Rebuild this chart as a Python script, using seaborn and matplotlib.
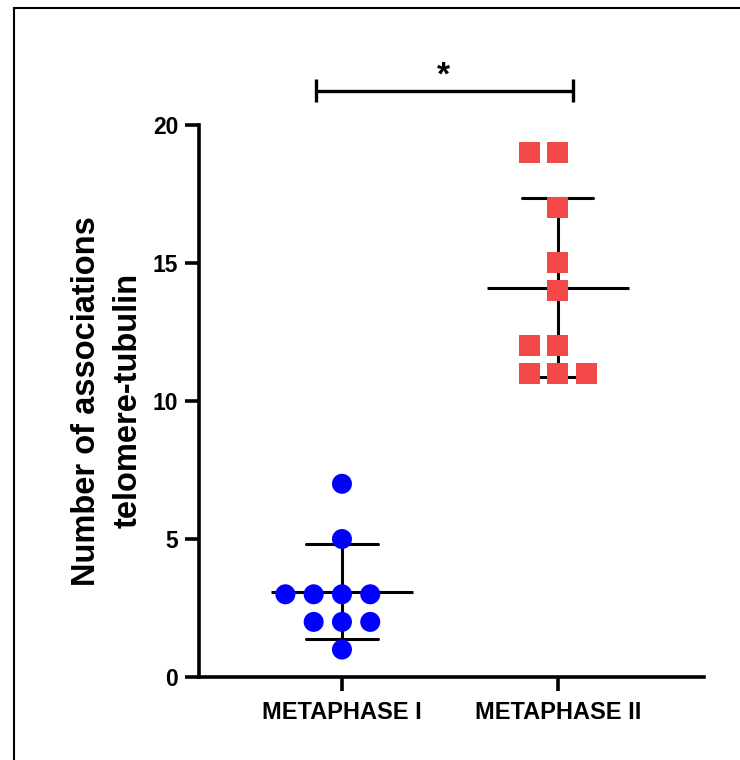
import numpy as np
import pandas as pd
import matplotlib.pyplot as plt
import seaborn as sns
from matplotlib.patches import Rectangle

groups = ['METAPHASE I', 'METAPHASE II']
metaphase_1 = [7, 5, 3, 3, 3, 3, 2, 2, 2, 1]
metaphase_2 = [19, 19, 17, 15, 14, 12, 12, 11, 11, 11]
y_ticks = [0, 5, 10, 15, 20]
y_label = 'Number of associations\ntelomere-tubulin'
sig_label = '*'

df = pd.DataFrame({
    'phase': [groups[0]] * len(metaphase_1) + [groups[1]] * len(metaphase_2),
    'count': metaphase_1 + metaphase_2,
})

sns.set_style('white')
plt.rcParams['font.family'] = ['Liberation Sans', 'DejaVu Sans']
plt.rcParams['font.weight'] = 'bold'

fig = plt.figure(figsize=(7.4, 7.6), dpi=100)
ax = fig.add_axes([0.269, 0.109, 0.682, 0.727])

# swarms - edge is invisible but its width keeps the points spaced apart
sns.swarmplot(data=df[df.phase == groups[0]], x='phase', y='count', order=groups,
              color='#0000ff', size=14.4, edgecolor='none', linewidth=5.0, ax=ax)
sns.swarmplot(data=df[df.phase == groups[1]], x='phase', y='count', order=groups,
              color='#f24848', marker='s', size=15.1, edgecolor='none', linewidth=4.3, ax=ax)

# mean +/- SD
sns.pointplot(data=df, x='phase', y='count', order=groups, errorbar='sd',
              color='black', linestyle='none', marker='_', markersize=102,
              markeredgewidth=2.2, capsize=0.33, err_kws={'linewidth': 2.2},
              zorder=2, ax=ax)

ax.set_xlim(-0.662, 1.676)
ax.set_ylim(0, 20)
ax.set_yticks(y_ticks)
ax.set_xlabel('')
ax.set_ylabel(y_label, fontsize=23.5, fontweight='bold', color='black',
              linespacing=1.45)
ax.yaxis.set_label_coords(-0.109, 0.5)

sns.despine(ax=ax)
for side in ['left', 'bottom']:
    ax.spines[side].set_linewidth(2.6)
    ax.spines[side].set_color('black')
ax.tick_params(axis='both', bottom=True, left=True, width=2.6, length=10,
               color='black', labelcolor='black')
ax.tick_params(axis='x', labelsize=17, pad=7)
ax.tick_params(axis='y', labelsize=16.5, pad=5)
for lbl in ax.get_xticklabels() + ax.get_yticklabels():
    lbl.set_fontweight('bold')

# significance bracket
ax.hlines(21.23, -0.12, 1.07, color='black', linewidth=2.4, clip_on=False)
ax.vlines([-0.12, 1.07], 20.83, 21.67, color='black', linewidth=2.4, clip_on=False)
ax.text(0.468, 21.75, sig_label, ha='center', va='center', fontsize=24,
        fontweight='bold', color='black')

# outer frame like the original screenshot
fig.add_artist(Rectangle((0.019, -0.1), 1.2, 1.0895, transform=fig.transFigure,
                         fill=False, edgecolor='black', linewidth=1.5))

fig.savefig('out.png', dpi=100)
